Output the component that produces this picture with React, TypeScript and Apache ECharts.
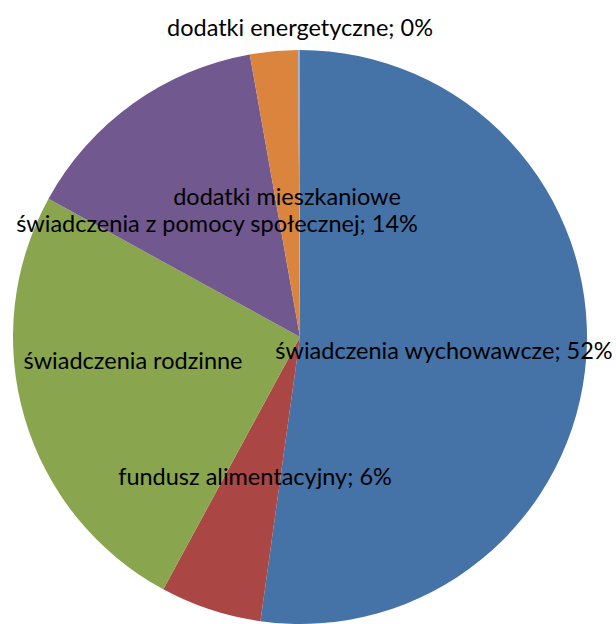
import React, { useEffect, useRef } from "react";
import * as echarts from "echarts";

const categories = [
  "świadczenia wychowawcze",
  "fundusz alimentacyjny",
  "świadczenia rodzinne",
  "świadczenia z pomocy społecznej",
  "dodatki mieszkaniowe",
  "dodatki energetyczne",
];
const values = [52.2, 5.7, 25.1, 14.2, 2.7, 0.1];
const shownPercent = [true, true, false, true, false, true];
const colors = ["#4572A7", "#AA4643", "#89A54E", "#71588F", "#DB843D", "#93A9CF"];
const labelPos: [number, number][] = [
  [444, 350],
  [255, 476],
  [133, 360],
  [217, 223],
  [287, 196],
  [300, 27],
];

export default function App() {
  const ref = useRef<HTMLDivElement>(null);
  useEffect(() => {
    if (!ref.current) return;
    const chart = echarts.init(ref.current, null, { renderer: "svg" });
    chart.setOption({
      animation: false,
      backgroundColor: "#ffffff",
      series: [
        {
          type: "pie",
          center: [300, 337],
          radius: 287,
          startAngle: 90,
          clockwise: true,
          avoidLabelOverlap: false,
          minAngle: 0,
          itemStyle: { borderWidth: 0 },
          label: {
            show: true,
            position: "inside",
            color: "#000000",
            fontFamily: "Lato",
            fontSize: 23.5,
            formatter: (p: any) =>
              shownPercent[p.dataIndex] ? `${p.name}; ${Math.round(p.percent)}%` : p.name,
          },
          labelLine: { show: false },
          labelLayout: (p: any) => ({
            x: labelPos[p.dataIndex][0],
            y: labelPos[p.dataIndex][1],
            align: "center",
            verticalAlign: "middle",
          }),
          emphasis: { disabled: true },
          data: categories.map((name, i) => ({
            name,
            value: values[i],
            itemStyle: { color: colors[i] },
          })),
        },
      ],
    });
    return () => chart.dispose();
  }, []);
  return (
    <div
      ref={ref}
      style={{ position: "absolute", left: 0, top: 0, width: 616, height: 624 }}
    />
  );
}
